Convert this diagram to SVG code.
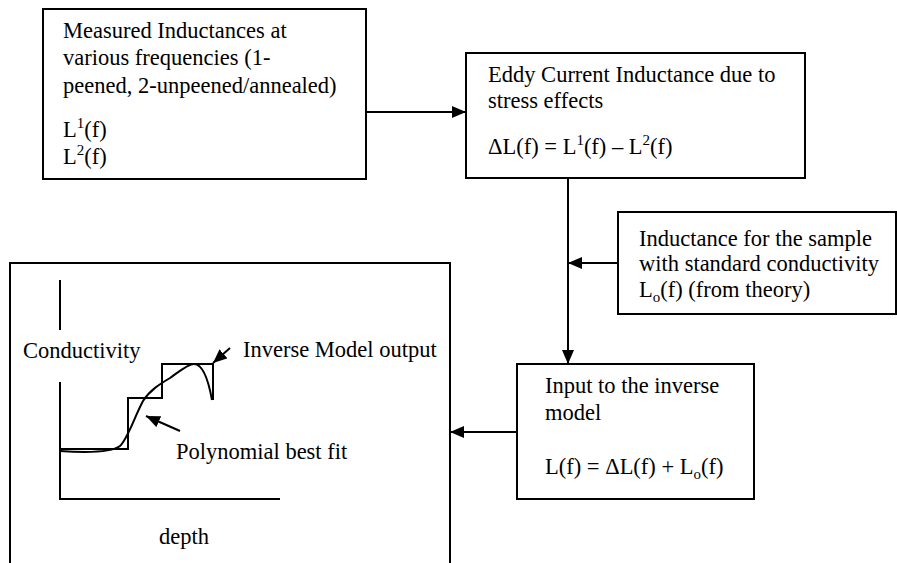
<svg xmlns="http://www.w3.org/2000/svg" width="897" height="563" viewBox="0 0 897 563" font-family="'Liberation Serif', 'Times New Roman', 'DejaVu Serif', serif">
<defs>
<style>
text{font-family:'Liberation Serif','Times New Roman','DejaVu Serif',serif;font-size:22.5px;fill:#000}
.sup{font-size:15px}
.box{fill:#fff;stroke:#000;stroke-width:2}
.ln{fill:none;stroke:#000;stroke-width:2}
</style>
<marker id="arr" markerUnits="userSpaceOnUse" viewBox="0 0 14 12" refX="14" refY="6" markerWidth="14" markerHeight="12" orient="auto">
<path d="M0,0 L14,6 L0,12 Z" fill="#000"/>
</marker>
</defs>
<rect width="897" height="563" fill="#fff"/>

<g id="measured">
<rect class="box" x="43" y="9" width="323" height="170"/>
<text x="63" y="38">Measured Inductances at</text>
<text x="63" y="65">various frequencies (1-</text>
<text x="63" y="93">peened, 2-unpeened/annealed)</text>
<text x="63" y="137">L<tspan class="sup" dy="-9">1</tspan><tspan dy="9">(f)</tspan></text>
<text x="63" y="164">L<tspan class="sup" dy="-9">2</tspan><tspan dy="9">(f)</tspan></text>
</g>

<g id="eddy">
<rect class="box" x="466" y="53" width="339" height="125"/>
<text x="488" y="82">Eddy Current Inductance due to</text>
<text x="488" y="108">stress effects</text>
<text x="488" y="154">ΔL(f) = L<tspan class="sup" dy="-9">1</tspan><tspan dy="9">(f) – L</tspan><tspan class="sup" dy="-9">2</tspan><tspan dy="9">(f)</tspan></text>
</g>

<g id="standard">
<rect class="box" x="618" y="212" width="278" height="102"/>
<text x="639" y="246">Inductance for the sample</text>
<text x="639" y="271">with standard conductivity</text>
<text x="639" y="297">L<tspan class="sup" dy="5">o</tspan><tspan dy="-5">(f) (from theory)</tspan></text>
</g>

<g id="input">
<rect class="box" x="517" y="364" width="237" height="135"/>
<text x="545" y="393">Input to the inverse</text>
<text x="545" y="420">model</text>
<text x="545" y="474">L(f) = ΔL(f) + L<tspan class="sup" dy="5">o</tspan><tspan dy="-5">(f)</tspan></text>
</g>

<g id="output">
<path class="ln" d="M10,570 V263 H450 V570"/>
<path class="ln" d="M60,280 V330 M60,382 V499 H280"/>
<path class="ln" d="M60,449 H128 V398 H162 V364 H213 V400"/>
<path class="ln" d="M60,451 C90,453 112,452 120,446 C128,438 134,418 143,401 C150,390 160,384 170,378 C180,371 188,364 194,364 C202,364 208,378 212,400"/>
<line class="ln" x1="230" y1="348" x2="213" y2="363" marker-end="url(#arr)"/>
<line class="ln" x1="180" y1="431" x2="146" y2="416" marker-end="url(#arr)"/>
<text x="23" y="358">Conductivity</text>
<text x="243" y="357">Inverse Model output</text>
<text x="176" y="459">Polynomial best fit</text>
<text x="159" y="544">depth</text>
</g>

<g id="connectors">
<line class="ln" x1="366" y1="112" x2="466" y2="112" marker-end="url(#arr)"/>
<line class="ln" x1="568" y1="178" x2="568" y2="364" marker-end="url(#arr)"/>
<line class="ln" x1="618" y1="263" x2="568" y2="263" marker-end="url(#arr)"/>
<line class="ln" x1="517" y1="432" x2="450" y2="432" marker-end="url(#arr)"/>
</g>
</svg>
